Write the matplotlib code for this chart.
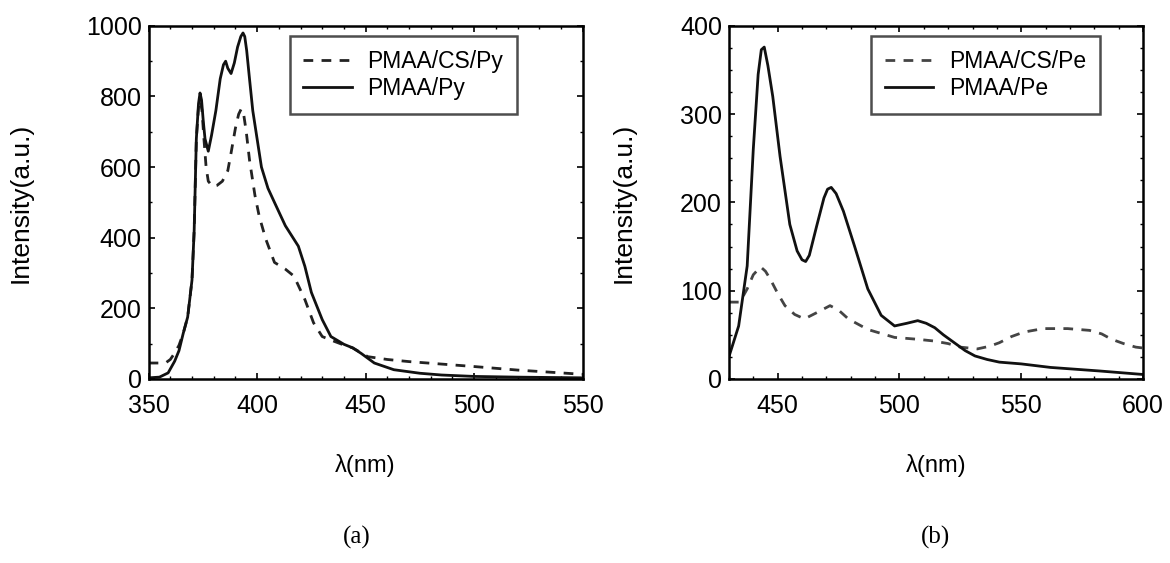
import matplotlib.pyplot as plt
import numpy as np

plt.rcParams['font.family'] = ['Liberation Sans', 'DejaVu Sans']

# panel (a): pyrene
xa_py = [350, 355, 359, 362, 364, 366, 368, 370, 371, 372, 373, 373.7, 374.4, 375.2, 376, 377.5, 379, 381, 383, 384.5,
         385.5, 386.5, 388, 389.5, 391, 392.5, 393.5, 394.3, 395.2, 396.5, 398, 400, 402, 405, 408, 413, 419, 422, 425,
         430, 434, 440, 444, 448, 454, 463, 475, 485, 500, 520, 550]
ya_py = [3, 5, 17, 50, 80, 130, 175, 280, 420, 680, 780, 810, 790, 730, 680, 645, 690, 760, 850, 890,
         900, 880, 865, 895, 940, 970, 980, 970, 930, 850, 760, 680, 600, 540, 500, 434, 376, 319, 245,
         168, 120, 98, 88, 72, 45, 26, 16, 11, 7, 5, 3]

xa_cs = [350, 355, 358, 360, 362, 364, 366, 368, 370, 371, 372, 373, 373.8, 374.6, 375.5, 376.5, 377.5, 379.5, 381.5,
         384, 386.5, 388, 390, 391.5, 392.7, 393.8, 395, 396.5, 399, 401, 404, 408, 413, 417, 422, 426, 430, 434,
         440, 444, 451, 460, 470, 485, 500, 520, 550]
ya_cs = [45, 45, 46, 55, 73, 95, 130, 175, 280, 420, 680, 770, 790, 760, 680, 600, 560, 545, 548,
         560, 590, 640, 710, 750, 765, 750, 700, 620, 520, 460, 396, 330, 311, 291, 225, 159, 120, 110,
         96, 88, 63, 55, 49, 42, 35, 25, 13]

# panel (b): perylene
xb_pe = [430, 434, 437.5, 440, 442, 443.3, 444.5, 446, 448, 451, 455, 458, 460, 461.5, 463, 466, 469, 470.5, 472,
         474, 477, 481.5, 487, 492.5, 498, 503, 507.5, 511, 514.5, 518, 522.5, 527, 531, 536, 541, 550, 562, 582, 600]
yb_pe = [25, 60, 128, 260, 345, 373, 376, 355, 320, 252, 175, 145, 135, 133, 140, 173, 205, 215, 217,
         210, 190, 151, 102, 72, 60, 63, 66, 63, 58, 50, 41, 32, 26, 22, 19, 17, 13, 9, 5]

xb_cs = [430, 434.5, 437.5, 440, 443, 445, 447, 450, 453, 457, 461, 466, 471.5, 475, 479, 487, 498, 507,
         514, 520, 525, 532, 537, 541, 546, 551, 559, 569, 578, 583, 587, 592, 597, 600]
yb_cs = [87, 87, 102, 118, 127, 122, 113, 97, 83, 73, 68, 75, 83, 78, 68, 56, 47, 45, 43, 40, 36, 34, 37,
         41, 48, 53, 57, 57, 55, 51, 45, 40, 36, 35]

fig = plt.figure(figsize=(11.7, 5.63), dpi=100)
ax1 = fig.add_axes([0.127, 0.327, 0.371, 0.627])
ax2 = fig.add_axes([0.623, 0.327, 0.354, 0.627])

def style(ax):
    for s in ax.spines.values():
        s.set_linewidth(1.8)
    ax.tick_params(which='both', direction='in', top=True, right=True, labelsize=18)
    ax.tick_params(axis='x', pad=11)
    ax.tick_params(axis='y', pad=5)
    ax.tick_params(which='major', length=4, width=1.2)
    ax.tick_params(which='minor', length=2.5, width=1)

def legend(ax, x, y):
    lg = ax.legend(loc='upper left', bbox_to_anchor=(x, y), fontsize=16.5, frameon=True, fancybox=False,
                   edgecolor='#222222', handlelength=2.1, handletextpad=0.7, borderpad=0.6,
                   labelspacing=0.2, borderaxespad=0)
    lg.get_frame().set_linewidth(1.8)

ax1.plot(xa_cs, ya_cs, color='#222222', lw=2, dashes=(3.5, 3), label='PMAA/CS/Py')
ax1.plot(xa_py, ya_py, color='#111111', lw=2, label='PMAA/Py')
ax1.set_xlim(350, 550)
ax1.set_ylim(0, 1000)
ax1.set_xticks([350, 400, 450, 500, 550])
ax1.set_yticks([0, 200, 400, 600, 800, 1000])
ax1.set_xticks(np.arange(350, 551, 10), minor=True)
ax1.set_yticks(np.arange(0, 1001, 100), minor=True)
style(ax1)
ax1.set_ylabel('Intensity(a.u.)', fontsize=19, labelpad=38)
ax1.set_xlabel('λ(nm)', fontsize=17, labelpad=26)
legend(ax1, 0.325, 0.972)

ax2.plot(xb_cs, yb_cs, color='#444444', lw=2, dashes=(3.5, 3), label='PMAA/CS/Pe')
ax2.plot(xb_pe, yb_pe, color='#111111', lw=2, label='PMAA/Pe')
ax2.set_xlim(430, 600)
ax2.set_ylim(0, 400)
ax2.set_xticks([450, 500, 550, 600])
ax2.set_yticks([0, 100, 200, 300, 400])
ax2.set_xticks(np.arange(430, 601, 10), minor=True)
ax2.set_yticks(np.arange(0, 401, 25), minor=True)
style(ax2)
ax2.set_ylabel('Intensity(a.u.)', fontsize=19, labelpad=32)
ax2.set_xlabel('λ(nm)', fontsize=17, labelpad=26)
legend(ax2, 0.343, 0.972)

fig.text(0.305, 0.035, '(a)', fontsize=18, family='Liberation Serif', ha='center')
fig.text(0.80, 0.035, '(b)', fontsize=18, family='Liberation Serif', ha='center')

fig.savefig('out.png', dpi=100)
